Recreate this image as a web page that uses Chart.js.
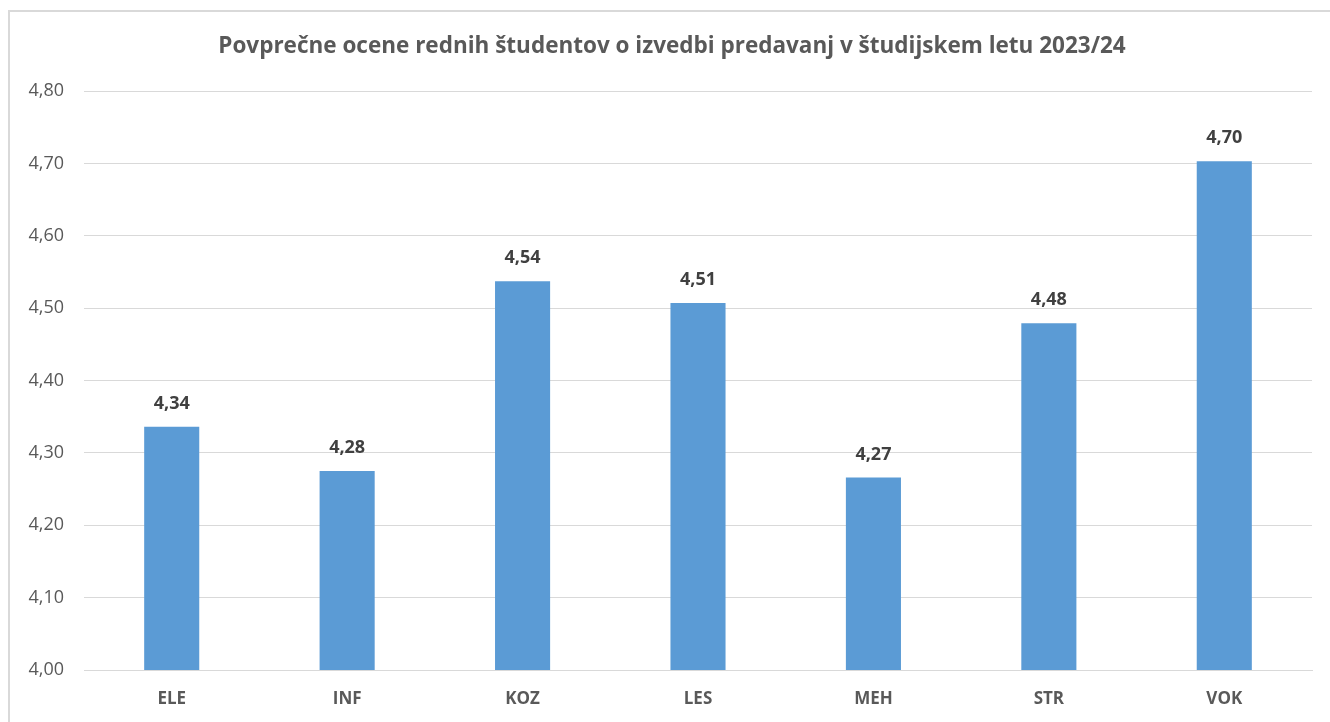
<!DOCTYPE html>
<html>
<head>
<meta charset="utf-8">
<script src="https://cdn.jsdelivr.net/npm/chart.js@4.4.1/dist/chart.umd.min.js"></script>
<style>
  html, body { margin: 0; padding: 0; background: #fff; overflow: hidden; }
  #frame { position: absolute; left: 8px; top: 10px; width: 1340px; height: 730px; border: 2px solid #d9d9d9; box-sizing: border-box; }
  #wrap { position: absolute; left: 0; top: 0; width: 1330px; height: 722px; }
</style>
</head>
<body>
<div id="frame"></div>
<div id="wrap"><canvas id="barChart" width="1330" height="722"></canvas></div>
<script>
  const categories = ['ELE', 'INF', 'KOZ', 'LES', 'MEH', 'STR', 'VOK'];
  const scores = [4.336, 4.275, 4.537, 4.507, 4.266, 4.479, 4.703];
  const yTicks = [4.00, 4.10, 4.20, 4.30, 4.40, 4.50, 4.60, 4.70, 4.80];
  const titleText = 'Povprečne ocene rednih študentov o izvedbi predavanj v študijskem letu 2023/24';

  const fmt = v => v.toFixed(2).replace('.', ',');
  const FONT = "'Open Sans', 'Noto Sans', Arial, sans-serif";

  Chart.defaults.font.family = FONT;
  Chart.defaults.color = '#595959';

  /* title + value labels above bars */
  const decorations = {
    id: 'decorations',
    afterDatasetsDraw(chart) {
      const ctx = chart.ctx;
      const meta = chart.getDatasetMeta(0);
      ctx.save();
      ctx.textAlign = 'center';
      ctx.font = 'bold 22.5px ' + FONT;
      ctx.fillStyle = '#595959';
      ctx.textBaseline = 'alphabetic';
      ctx.fillText(titleText, 672, 53);

      ctx.font = 'bold 18px ' + FONT;
      ctx.fillStyle = '#404040';
      ctx.textBaseline = 'middle';
      meta.data.forEach((bar, i) => {
        ctx.fillText(fmt(scores[i]), bar.x, bar.y - 23);
      });
      ctx.restore();
    }
  };

  new Chart(document.getElementById('barChart').getContext('2d'), {
    type: 'bar',
    data: {
      labels: categories,
      datasets: [{
        data: scores,
        backgroundColor: '#5b9bd5',
        barPercentage: 0.314,
        categoryPercentage: 1
      }]
    },
    options: {
      responsive: false,
      animation: false,
      layout: { padding: { left: 0, right: 18, top: 91, bottom: 0 } },
      plugins: {
        legend: { display: false },
        tooltip: { enabled: false },
        title: { display: false }
      },
      scales: {
        x: {
          grid: { display: false, drawTicks: false },
          border: { color: '#d9d9d9', width: 1 },
          ticks: { padding: 19, font: { size: 17, weight: 'bold' }, color: '#595959' },
          afterFit: s => { s.height = 52; }
        },
        y: {
          min: yTicks[0],
          max: yTicks[yTicks.length - 1],
          afterBuildTicks: s => { s.ticks = yTicks.map(v => ({ value: v })); },
          grid: { color: '#d9d9d9', lineWidth: 1, drawTicks: false },
          border: { display: false },
          ticks: { padding: 20, font: { size: 18 }, color: '#595959', callback: v => fmt(v) },
          afterFit: s => { s.width = 84; }
        }
      }
    },
    plugins: [decorations]
  });
</script>
</body>
</html>
